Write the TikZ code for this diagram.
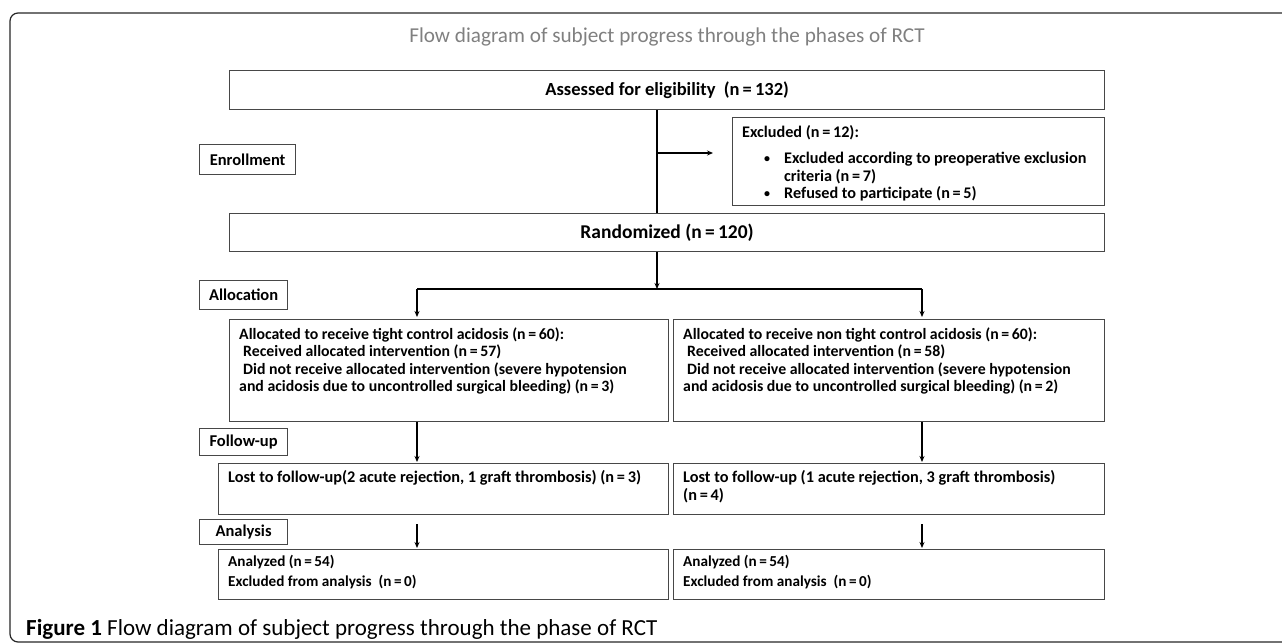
\documentclass[tikz,border=0pt]{standalone}
\usepackage{fontspec}
\setmainfont{Carlito}
\usetikzlibrary{arrows.meta,calc}
\begin{document}
\begin{tikzpicture}[x=1pt,y=-1pt,
  box/.style={draw=black!72, line width=1.2pt, inner sep=0pt, anchor=north west},
  phase/.style={box, font=\fontsize{16.5}{19}\selectfont\bfseries},
  txt/.style={inner sep=0pt, anchor=west, align=left, font=\fontsize{15.8}{17.3}\selectfont\bfseries},
  bul/.style={inner sep=0pt, anchor=west, font=\fontsize{12}{14}\selectfont\bfseries},
  conn/.style={line width=1.6pt, black},
  arr/.style={conn, -{Stealth[length=6pt,width=5pt]}}]
\useasboundingbox (0,0) rectangle (1282,644);
\clip (0,0) rectangle (1282,644);
% outer frame
\draw[line width=1.2pt, black!85, rounded corners=8pt] (1300,13) -- (10,13) -- (10,642) -- (1300,642);
% title
\node[anchor=base, inner sep=0pt, text=black!50, font=\fontsize{21.2}{24}\selectfont] (title) at (667,43) {Flow diagram of subject progress through the phases of RCT};
% phase labels
\node[phase, minimum width=96pt, minimum height=30pt] (enr) at (199,144) {Enrollment};
\node[phase, minimum width=88pt, minimum height=29pt] (alc) at (199,280) {Allocation};
\node[phase, minimum width=88pt, minimum height=27pt] (fol) at (199,428) {Follow-up};
\node[phase, minimum width=88pt, minimum height=25pt] (ana) at (199,519) {Analysis};
% main boxes
\node[box, minimum width=875pt, minimum height=39pt, font=\fontsize{18.5}{21}\selectfont\bfseries] (A) at (229,70) {Assessed for eligibility\ \ (n\,=\,132)};
\node[box, minimum width=372pt, minimum height=88pt] (E) at (732,117) {};
\node[txt, font=\fontsize{16.2}{18}\selectfont\bfseries] (e1) at (742,133) {Excluded (n\,=\,12):};
\node[bul] (eb1) at (764,160) {\textbullet};
\node[txt, font=\fontsize{16.2}{18}\selectfont\bfseries] (e2) at (784,159) {Excluded according to preoperative exclusion};
\node[txt, font=\fontsize{16.2}{18}\selectfont\bfseries] (e3) at (784,177) {criteria (n\,=\,7)};
\node[bul] (eb2) at (764,195) {\textbullet};
\node[txt, font=\fontsize{16.2}{18}\selectfont\bfseries] (e4) at (784,194) {Refused to participate\ (n\,=\,5)};
\node[box, minimum width=875pt, minimum height=38pt, font=\fontsize{19.5}{22}\selectfont\bfseries] (R) at (229,213) {Randomized (n\,=\,120)};
% allocation boxes
\node[box, minimum width=439pt, minimum height=102pt] (AL) at (229,319) {};
\node[box, minimum width=431pt, minimum height=102pt] (AR) at (673,319) {};
\node[txt] (alt) at (239,361) {Allocated to\ receive tight control acidosis (n\,=\,60):\\
\hspace*{4pt}Received allocated intervention (n\,=\,57)\\
\hspace*{4pt}Did not receive allocated\ intervention (severe hypotension\\
and acidosis due to\ uncontrolled surgical bleeding) (n\,=\,3)};
\node[txt] (art) at (683,361) {Allocated to\ receive non tight control acidosis (n\,=\,60):\\
\hspace*{4pt}Received allocated intervention (n\,=\,58)\\
\hspace*{4pt}Did not receive allocated\ intervention (severe hypotension\\
and acidosis due to\ uncontrolled surgical bleeding) (n\,=\,2)};
% follow-up boxes
\node[box, minimum width=450pt, minimum height=51pt] (LL) at (218,463) {};
\node[box, minimum width=431pt, minimum height=51pt] (LR) at (673,463) {};
\node[txt, font=\fontsize{16.3}{18}\selectfont\bfseries] (llt) at (228,478) {Lost to follow-up(2 acute rejection, 1 graft thrombosis) (n\,=\,3)};
\node[txt, font=\fontsize{16.3}{18}\selectfont\bfseries] (lrt) at (683,487) {Lost to follow-up (1\ acute rejection, 3 graft thrombosis)\\(n\,=\,4)};
% analysis boxes
\node[box, minimum width=450pt, minimum height=50pt] (NL) at (218,549) {};
\node[box, minimum width=431pt, minimum height=50pt] (NR) at (673,549) {};
\node[txt, font=\fontsize{15.2}{19.5}\selectfont\bfseries] (nlt) at (228,572) {Analyzed (n\,=\,54)\\Excluded from analysis\ \ (n\,=\,0)};
\node[txt, font=\fontsize{15.2}{19.5}\selectfont\bfseries] (nrt) at (683,572) {Analyzed (n\,=\,54)\\Excluded from analysis\ \ (n\,=\,0)};
% caption
\node[anchor=base west, inner sep=0pt, font=\fontsize{23}{27}\selectfont] (cap) at (26,635) {\textbf{Figure 1} Flow diagram of subject progress through the phase of RCT};
% connector coordinates
\coordinate (xm) at (657,0);
\coordinate (xl) at (417,0);
\coordinate (xr) at (922,0);
\coordinate (hy) at (0,289);
\coordinate (ey) at (0,153);
\coordinate (eend) at (713,153);
% connectors
\draw[conn] (A.south -| xm) -- (R.north -| xm);
\draw[arr] (xm |- ey) -- (eend);
\draw[arr] (R.south -| xm) -- (xm |- hy);
\draw[conn] (xl |- hy) -- (xr |- hy);
\draw[arr, shorten >=2pt] (xl |- hy) -- (xl |- AL.north);
\draw[arr, shorten >=2pt] (xr |- hy) -- (xr |- AR.north);
\draw[arr, shorten >=1pt] (xl |- AL.south) -- (xl |- LL.north);
\draw[arr, shorten >=1pt] (xr |- AR.south) -- (xr |- LR.north);
\draw[arr, shorten <=9pt, shorten >=1pt] (xl |- LL.south) -- (xl |- NL.north);
\draw[arr, shorten <=9pt, shorten >=1pt] (xr |- LR.south) -- (xr |- NR.north);
\end{tikzpicture}
\end{document}
